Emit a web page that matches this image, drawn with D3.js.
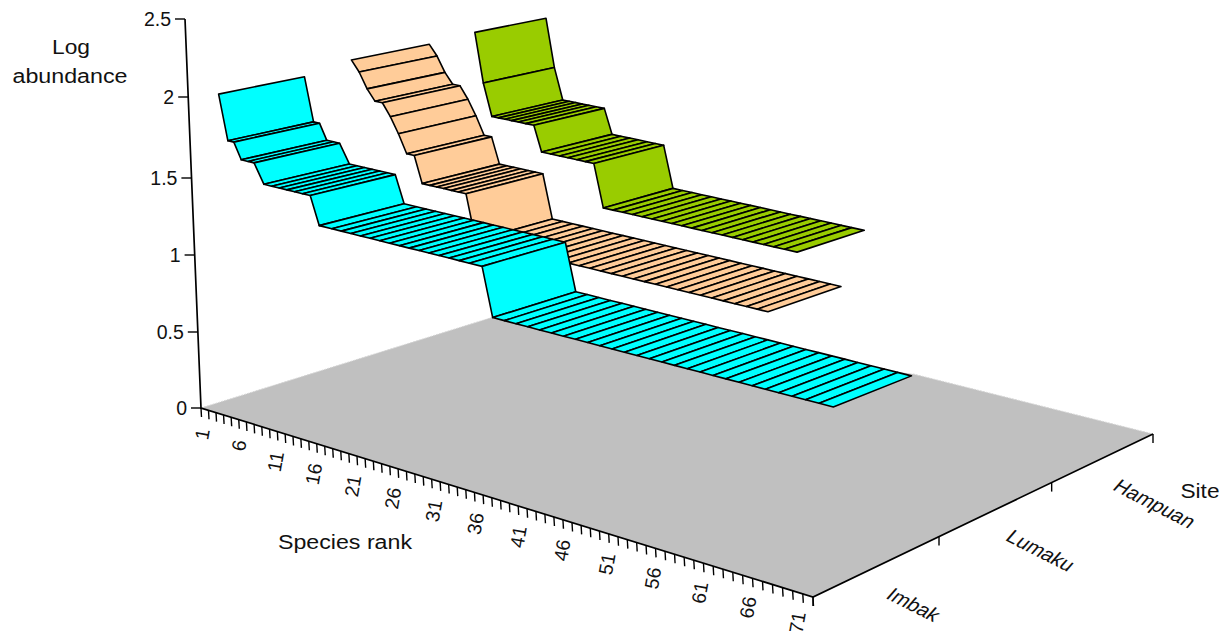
<!DOCTYPE html>
<html>
<head>
<meta charset="utf-8">
<script src="https://cdn.jsdelivr.net/npm/d3@7"></script>
<style>
html, body { margin: 0; padding: 0; background: #fff; }
text { font-family: "Liberation Sans", Arial, sans-serif; fill: #111; }
</style>
</head>
<body>
<svg id="chart" width="1227" height="631"></svg>
<script>
var sites = ["Imbak", "Lumaku", "Hampuan"];
var colors = ["#00ffff", "#ffcc99", "#99cc00"];
var rankTicks = [1, 6, 11, 16, 21, 26, 31, 36, 41, 46, 51, 56, 61, 66, 71];
var valueTicks = [0, 0.5, 1, 1.5, 2, 2.5];

// mesh lines, they do not sit exactly on the axis ticks
var imbakRanks = [1, 2, 2.8, 3.7, 4.6, 5.4, 6.6, 7.6, 8.6, 9.6, 10.6, 11.6, 12.6, 13.6,
    15.2, 16.4, 17.6, 18.8, 20, 21.2, 22.4, 23.6, 24.8, 26, 27.2, 28.4, 29.6, 30.8, 32, 33.5,
    34.5, 35.85, 37.2, 38.55, 39.9, 41.25, 42.6, 43.95, 45.3, 46.65, 48, 49.35, 50.7, 52.05,
    53.4, 54.75, 56.1, 57.45, 58.8, 60.15, 61.5, 62.85, 64.2, 65.55, 66.9, 68.25, 69.6, 71];
var imbak = [1.98, 1.7, 1.7, 1.6, 1.6, 1.6, 1.48, 1.48, 1.48, 1.48, 1.48, 1.48, 1.48,
    1.3, 1.3, 1.3, 1.3, 1.3, 1.3, 1.3, 1.3, 1.3, 1.3, 1.3, 1.3, 1.3, 1.3, 1.3, 1.3, 1.3,
    1, 1, 1, 1, 1, 1, 1, 1, 1, 1, 1, 1, 1, 1,
    1, 1, 1, 1, 1, 1, 1, 1, 1, 1, 1, 1, 1, 1];

var lumakuRanks = [0.6, 1.6, 2.6, 3.6, 4.6, 5.6, 6.6, 7.6, 8.6, 9.5, 10.5, 11.4, 12.3, 13.3, 14.2, 15.2,
    16.2, 17.5, 18.8, 20.1, 21.4, 22.6, 23.9, 25.2, 26.5, 27.8, 29.1, 30.4, 31.7, 33,
    34.3, 35.6, 36.9, 38.2, 39.5, 40.8, 42.1, 43.4, 44.7, 46, 47.3, 48.6, 49.8, 51];
var lumaku = [2.02, 1.95, 1.85, 1.78, 1.78, 1.7, 1.6, 1.48, 1.48, 1.3, 1.3, 1.3, 1.3, 1.3, 1.3, 1.3,
    1, 1, 1, 1, 1, 1, 1, 1, 1, 1, 1, 1, 1, 1,
    1, 1, 1, 1, 1, 1, 1, 1, 1, 1, 1, 1, 1, 1];

var hampuanRanks = [0.6, 1.5, 2.5, 3.4, 4.3, 5.2, 6.1, 7.1, 8.2, 9.1, 10.3, 11.5, 12.6, 13.8, 14.9, 16,
    17, 18.25, 19.5, 20.75, 22, 23.25, 24.5, 25.75, 27, 28.25, 29.5, 30.75, 32, 33.25,
    34.5, 35.75, 37, 38.25, 39.5, 41];
var hampuan = [2.04, 1.7, 1.48, 1.48, 1.48, 1.48, 1.48, 1.48, 1.48, 1.3, 1.3, 1.3, 1.3, 1.3, 1.3, 1.3,
    1, 1, 1, 1, 1, 1, 1, 1, 1, 1, 1, 1, 1, 1,
    1, 1, 1, 1, 1, 1];

var series = [imbak, lumaku, hampuan];
var seriesRanks = [imbakRanks, lumakuRanks, hampuanRanks];

// floor corners on screen: rank 1 front, rank 71 front, rank 71 back, rank 1 back
var A = [201, 408], B = [813, 597], C = [1153, 434], D = [579, 290.4];

var dx1 = B[0] - C[0], dy1 = B[1] - C[1], dx2 = D[0] - C[0], dy2 = D[1] - C[1];
var sx = A[0] - B[0] + C[0] - D[0], sy = A[1] - B[1] + C[1] - D[1];
var den = dx1 * dy2 - dy1 * dx2;
var g = (sx * dy2 - sy * dx2) / den, h = (dx1 * sy - dy1 * sx) / den;
var a = B[0] - A[0] + g * B[0], b = D[0] - A[0] + h * D[0];
var d = B[1] - A[1] + g * B[1], e = D[1] - A[1] + h * D[1];

var rankScale = d3.scaleLinear().domain([1, 71]).range([0, 1]);
var siteScale = d3.scaleLinear().domain([0, 3]).range([0, 1]);
var zx = d3.scaleLinear().domain([0, 2.5]).range([0, -16]);
var zy = d3.scaleLinear().domain(valueTicks).range([0, -76, -153, -230, -311, -389]);

// rank labels drift away from their ticks along the axis
var labelDx = d3.scaleLinear().domain([1, 71]).range([9, -7]);
var labelDy = d3.scaleLinear().domain([1, 71]).range([22, 16]);

function project(rank, site, value) {
    var u = rankScale(rank), v = siteScale(site);
    var w = g * u + h * v + 1;
    return [(a * u + b * v + A[0] + zx(value)) / w, (d * u + e * v + A[1] + zy(value)) / w];
}

var vis = d3.select("#chart");
var line = d3.line();

// floor, the corner behind the Imbak ribbon is cut so no grey shows above it
var backLeft = project(1, 2.23, 0), backRight = project(44, 3, 0);
vis.append("path")
    .attr("d", line([project(1, 0, 0), project(71, 0, 0), project(71, 3, 0), backRight, backLeft]) + "Z")
    .attr("fill", "#c0c0c0");
vis.append("path")
    .attr("d", line([project(1, 0, 0), backLeft]) + line([backRight, project(71, 3, 0)]))
    .attr("fill", "none")
    .attr("stroke", "#d4d4d4")
    .attr("stroke-width", 1)
    .attr("stroke-dasharray", "2,1");

// ribbons, back site first
d3.range(2, -1, -1).forEach(function(s) {
    var quads = d3.pairs(series[s].map(function(val, i) { return { rank: seriesRanks[s][i], val: val }; }));
    vis.append("g").selectAll("path")
        .data(quads)
        .enter().append("path")
        .attr("d", function(q) {
            var lo = s + 0.5 - 0.29, hi = s + 0.5 + 0.33;
            return line([project(q[0].rank, lo, q[0].val), project(q[1].rank, lo, q[1].val),
                         project(q[1].rank, hi, q[1].val), project(q[0].rank, hi, q[0].val)]) + "Z";
        })
        .attr("fill", colors[s])
        .attr("stroke", "#000")
        .attr("stroke-width", 1.6)
        .attr("stroke-linejoin", "round");
});

// axes
function stroke(pts, w) {
    vis.append("path").attr("d", line(pts)).attr("fill", "none").attr("stroke", "#000").attr("stroke-width", w);
}
stroke([project(1, 0, 2.5), project(1, 0, 0), project(71, 0, 0), project(71, 3, 0)], 1.7);

valueTicks.forEach(function(t) {
    var p = project(1, 0, t);
    stroke([[p[0] - 10, p[1]], p], 1.4);
    vis.append("text").attr("x", p[0] - 14).attr("y", p[1] + 7)
        .attr("text-anchor", "end").style("font-size", "19.5px").text(t);
});

d3.range(1, 72).forEach(function(r) {
    var p = project(r, 0, 0);
    stroke([p, [p[0] + 0.5, p[1] + 9]], 1.4);
});
rankTicks.forEach(function(r) {
    var p = project(r, 0, 0);
    vis.append("text")
        .attr("transform", "translate(" + (p[0] + labelDx(r)) + "," + (p[1] + labelDy(r)) + ") rotate(-80)")
        .attr("text-anchor", "end").style("font-size", "19.5px").text(r);
});

d3.range(0, 4).forEach(function(s) {
    var p = project(71, s, 0);
    stroke([p, [p[0], p[1] + 9]], 1.4);
});

var siteLabels = [[909, 610], [1036, 556], [1150, 509]];
sites.forEach(function(name, i) {
    vis.append("text")
        .attr("transform", "translate(" + siteLabels[i][0] + "," + siteLabels[i][1] + ") rotate(27) skewX(-14)")
        .attr("text-anchor", "middle").style("font-size", "20px").text(name);
});

// titles
function title(str, x, y, len) {
    vis.append("text").attr("x", x).attr("y", y).attr("text-anchor", "middle")
        .attr("textLength", len).attr("lengthAdjust", "spacingAndGlyphs")
        .style("font-size", "20px").text(str);
}
title("Log", 71, 54, 38);
title("abundance", 70, 83, 115);
title("Species rank", 345, 549, 134);
title("Site", 1200, 498, 39);
</script>
</body>
</html>
